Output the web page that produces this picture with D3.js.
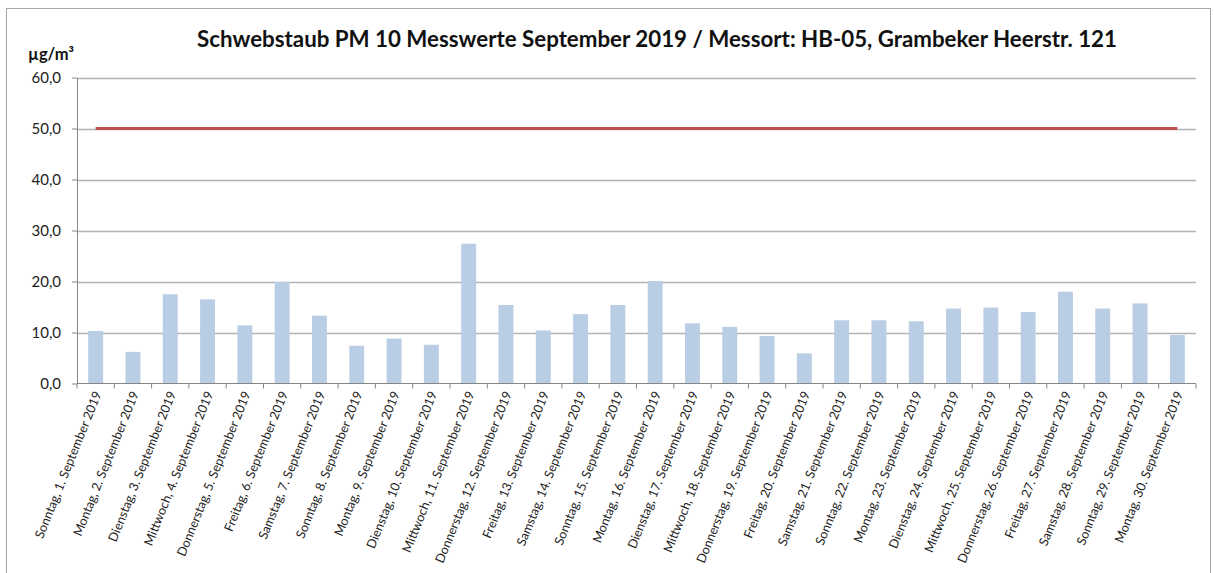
<!DOCTYPE html>
<html>
<head>
<meta charset="utf-8">
<script src="https://cdn.jsdelivr.net/npm/d3@7"></script>
<style>
  body { margin: 0; background: #fff; }
  svg { display: block; font-family: Lato, "Open Sans", sans-serif; }
</style>
</head>
<body>
<div id="chart"></div>
<script>
// Data
const days = ['Sonntag, 1. September 2019', 'Montag, 2. September 2019', 'Dienstag, 3. September 2019',
  'Mittwoch, 4. September 2019', 'Donnerstag, 5. September 2019', 'Freitag, 6. September 2019',
  'Samstag, 7. September 2019', 'Sonntag, 8. September 2019', 'Montag, 9. September 2019',
  'Dienstag, 10. September 2019', 'Mittwoch, 11. September 2019', 'Donnerstag, 12. September 2019',
  'Freitag, 13. September 2019', 'Samstag, 14. September 2019', 'Sonntag, 15. September 2019',
  'Montag, 16. September 2019', 'Dienstag, 17. September 2019', 'Mittwoch, 18. September 2019',
  'Donnerstag, 19. September 2019', 'Freitag, 20. September 2019', 'Samstag, 21. September 2019',
  'Sonntag, 22. September 2019', 'Montag, 23. September 2019', 'Dienstag, 24. September 2019',
  'Mittwoch, 25. September 2019', 'Donnerstag, 26. September 2019', 'Freitag, 27. September 2019',
  'Samstag, 28. September 2019', 'Sonntag, 29. September 2019', 'Montag, 30. September 2019'];
const pm10 = [10.3, 6.2, 17.5, 16.5, 11.4, 19.9, 13.3, 7.4, 8.8, 7.6,
  27.4, 15.4, 10.4, 13.6, 15.4, 20.1, 11.8, 11.1, 9.3, 5.9,
  12.4, 12.4, 12.2, 14.7, 14.9, 14.0, 18.0, 14.7, 15.7, 9.5];
const limit = days.map(() => 50);
const yTicks = [0, 10, 20, 30, 40, 50, 60];

const width = 1214, height = 573;
const margin = { top: 77.5, right: 18, bottom: 189.5, left: 77 };

const svg = d3.select('#chart').append('svg')
  .attr('width', width)
  .attr('height', height);

// Outer frame
svg.append('rect')
  .attr('x', 6.5).attr('y', 8.5)
  .attr('width', 1204).attr('height', 600)
  .attr('fill', '#fff').attr('stroke', '#a6a6a6');

const x = d3.scaleBand()
  .domain(days)
  .range([margin.left, width - margin.right])
  .paddingInner(0.6)
  .paddingOuter(0.3);

const y = d3.scaleLinear()
  .domain([0, 60])
  .range([height - margin.bottom, margin.top]);

const de = d3.formatLocale({ decimal: ',', thousands: '.', grouping: [3], currency: ['', ' €'] });
const fmt = de.format('.1f');

// Gridlines
svg.append('g')
  .selectAll('line')
  .data(yTicks.filter(d => d > 0))
  .join('line')
    .attr('x1', margin.left).attr('x2', width - margin.right)
    .attr('y1', d => Math.round(y(d)) + 0.5).attr('y2', d => Math.round(y(d)) + 0.5)
    .attr('stroke', '#b3b3b3').attr('stroke-width', 1.3);

// Bars
svg.append('g')
  .selectAll('rect')
  .data(pm10)
  .join('rect')
    .attr('x', (d, i) => x(days[i]))
    .attr('y', d => y(d))
    .attr('width', x.bandwidth())
    .attr('height', d => y(0) - y(d))
    .attr('fill', '#b9cde5');

// Limit line
const line = d3.line()
  .x((d, i) => x(days[i]) + x.bandwidth() / 2)
  .y(d => y(d));
svg.append('path')
  .datum(limit)
  .attr('d', line)
  .attr('fill', 'none')
  .attr('stroke', '#c0504d')
  .attr('stroke-width', 3);

// Y axis
const yAxis = svg.append('g')
  .attr('transform', `translate(${margin.left},0)`)
  .call(d3.axisLeft(y).tickValues(yTicks).tickFormat(fmt).tickSize(5).tickSizeOuter(0));
yAxis.select('.domain').attr('stroke', '#868686');
yAxis.selectAll('.tick line').attr('stroke', '#868686');
yAxis.selectAll('.tick text')
  .attr('x', -16)
  .attr('font-size', 15)
  .attr('fill', '#222')
  .attr('font-family', 'Lato, "Open Sans", sans-serif');

// X axis with ticks on category boundaries
const xAxis = svg.append('g')
  .attr('transform', `translate(0,${y(0)})`);
xAxis.append('line')
  .attr('x1', margin.left).attr('x2', width - margin.right)
  .attr('stroke', '#868686');
const bounds = days.map(d => x(d) + x.bandwidth() / 2 - x.step() / 2).concat([width - margin.right]);
xAxis.selectAll('.bound')
  .data(bounds)
  .join('line')
    .attr('class', 'bound')
    .attr('x1', d => d).attr('x2', d => d)
    .attr('y1', 0).attr('y2', 5)
    .attr('stroke', '#868686');
xAxis.selectAll('text')
  .data(days)
  .join('text')
    .attr('transform', d => `translate(${x(d) + x.bandwidth() / 2 + 6},10) rotate(-68)`)
    .attr('text-anchor', 'end')
    .attr('font-size', 12.6)
    .attr('fill', '#222')
    .text(d => d);

// Title and unit
svg.append('text')
  .attr('x', 657).attr('y', 47)
  .attr('text-anchor', 'middle')
  .attr('font-size', 22.3)
  .attr('font-weight', 'bold')
  .attr('fill', '#111')
  .text('Schwebstaub PM 10 Messwerte September 2019 / Messort: HB-05, Grambeker Heerstr. 121');

svg.append('text')
  .attr('x', 28).attr('y', 60)
  .attr('font-size', 16.5)
  .attr('font-weight', 'bold')
  .attr('fill', '#111')
  .text('µg/m³');
</script>
</body>
</html>
